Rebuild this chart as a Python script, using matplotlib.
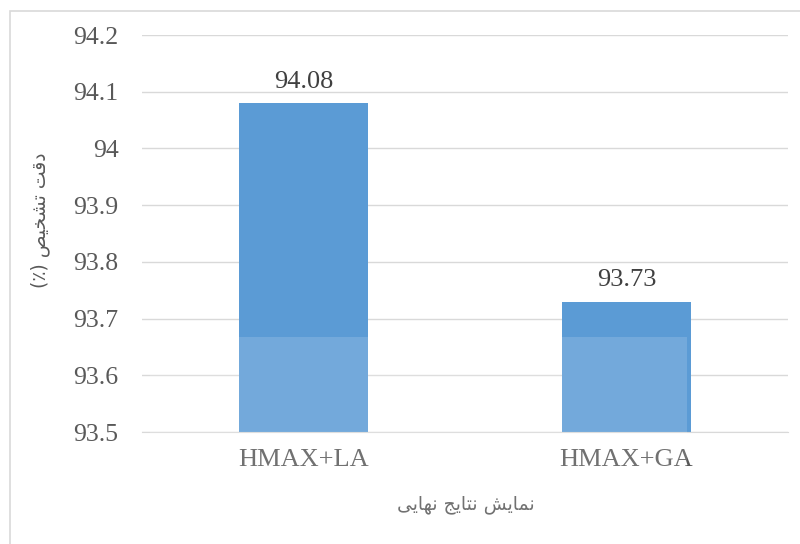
import matplotlib.pyplot as plt
from matplotlib.patches import Rectangle

# data
categories = ['HMAX+LA', 'HMAX+GA']
accuracy = [94.08, 93.73]
y_ticks = [93.5, 93.6, 93.7, 93.8, 93.9, 94.0, 94.1, 94.2]
y_tick_labels = ['93.5', '93.6', '93.7', '93.8', '93.9', '94', '94.1', '94.2']

# Persian labels: logical order with presentation forms, reversed to visual
# order (matplotlib does no Arabic shaping / bidi)
x_title = ('\uFEE7\uFEE4\uFE8E\uFEF3\uFEB6' + ' '
           + '\uFEE7\uFE98\uFE8E\uFEF3\uFE9E' + ' '
           + '\uFEE7\uFEEC\uFE8E\uFEF3\uFEF0')[::-1]
y_title = ('\uFEA9\uFED7\uFE96' + ' '
           + '\uFE97\uFEB8\uFEA8\uFEF4\uFEBA' + ' (\u066A)')
# parentheses mirror in RTL
y_title = y_title[::-1].replace('(', '#').replace(')', '(').replace('#', ')')

BAR = '#5B9BD5'
GRID = '#D9D9D9'
TXT = '#595959'
SERIF = 'Liberation Serif'

fig = plt.figure(figsize=(8, 5.44), dpi=100)
ax = fig.add_axes([142 / 800, 1 - 432 / 544, (788 - 142) / 800, (432 - 35) / 544])

x = range(len(categories))
ax.bar(x, accuracy, width=0.4, color=BAR, zorder=2)
for xi, v in zip(x, accuracy):
    ax.text(xi, v + 0.038, f'{v:.2f}', ha='center', va='center',
            fontsize=19, family=SERIF, color='#404040')

ax.set_xlim(-0.5, 1.5)
ax.set_ylim(93.5, 94.2)
ax.set_yticks(y_ticks)
ax.set_yticklabels(y_tick_labels, family=SERIF, fontsize=18.5, color=TXT)
ax.set_xticks(list(x))
ax.set_xticklabels(categories, family=SERIF, fontsize=19, color=TXT)
ax.tick_params(length=0, axis='y', pad=17)
ax.tick_params(length=0, axis='x', pad=12)
ax.grid(axis='y', color=GRID, linewidth=1, zorder=0)
for s in ['top', 'right', 'left']:
    ax.spines[s].set_visible(False)
ax.spines['bottom'].set_color(GRID)
ax.spines['bottom'].set_zorder(3)

fig.text(466 / 800, 1 - 505 / 544, x_title, ha='center', va='center',
         family='DejaVu Sans', fontsize=13.5, color=TXT)
fig.text(40 / 800, 1 - 220 / 544, y_title, rotation=90, ha='center', va='center',
         family='DejaVu Sans', fontsize=13.5, color=TXT)

# faint watermark wash over the lower part of the bars
fig.patches.append(Rectangle((150 / 800, 0), (687 - 150) / 800, 1 - 337 / 544,
                             transform=fig.transFigure, facecolor='white',
                             alpha=0.15, edgecolor='none', zorder=5))

# chart border
fig.patches.append(Rectangle((10 / 800, -0.02), 1.0, 1 - 11 / 544 + 0.02,
                             transform=fig.transFigure, facecolor='none',
                             edgecolor='#D9D9D9', linewidth=1.2, zorder=1))

fig.savefig('out.png', dpi=100)
